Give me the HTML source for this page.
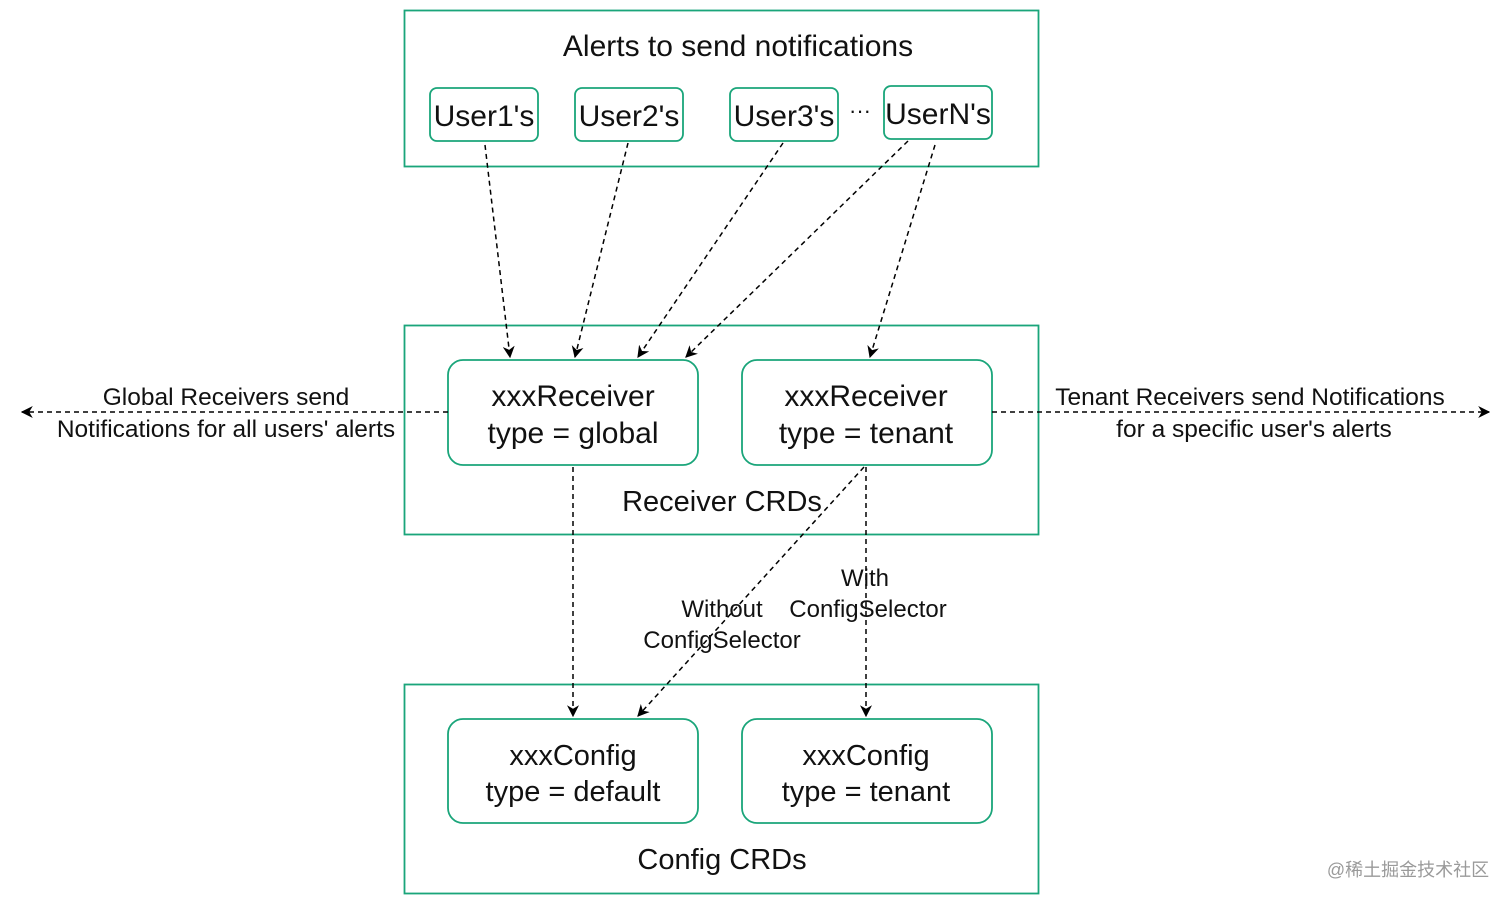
<!DOCTYPE html>
<html><head><meta charset="utf-8"><style>
html,body{margin:0;padding:0;background:#fff;}
svg{display:block;}
text{font-family:"Liberation Sans",Arial,sans-serif;fill:#111;}
</style></head><body>
<svg width="1512" height="904" viewBox="0 0 1512 904" xmlns="http://www.w3.org/2000/svg">
<defs>
<marker id="a" viewBox="0 0 10 10" refX="9" refY="5" markerWidth="12" markerHeight="12" orient="auto-start-reverse" markerUnits="userSpaceOnUse">
<path d="M0,0 L10,5 L0,10 L3,5 Z" fill="#000"/>
</marker>
</defs>
<g fill="none" stroke="#1aa57a" stroke-width="1.8">
<rect x="404.5" y="10.5" width="634" height="156"/>
<rect x="404.5" y="325.5" width="634" height="209"/>
<rect x="404.5" y="684.5" width="634" height="209"/>
<rect x="430" y="88" width="108" height="53" rx="7"/>
<rect x="575" y="88" width="108" height="53" rx="7"/>
<rect x="730" y="88" width="108" height="53" rx="7"/>
<rect x="884" y="86" width="108" height="53" rx="7"/>
<rect x="448" y="360" width="250" height="105" rx="15"/>
<rect x="742" y="360" width="250" height="105" rx="15"/>
<rect x="448" y="719" width="250" height="104" rx="15"/>
<rect x="742" y="719" width="250" height="104" rx="15"/>
</g>
<g stroke="#000" stroke-width="1.5" stroke-dasharray="5,4" fill="none" marker-end="url(#a)">
<line x1="485" y1="145" x2="510" y2="357"/>
<line x1="628" y1="143" x2="575" y2="357"/>
<line x1="783" y1="143" x2="638" y2="357"/>
<line x1="908" y1="141" x2="686" y2="357"/>
<line x1="935" y1="145" x2="870" y2="357"/>
<line x1="448" y1="412" x2="22" y2="412"/>
<line x1="992" y1="412" x2="1489" y2="412"/>
<line x1="573" y1="467" x2="573" y2="716"/>
<line x1="866" y1="467" x2="866" y2="716"/>
<line x1="864" y1="467" x2="638" y2="716"/>
</g>
<g text-anchor="middle">
<text x="738" y="56" font-size="30">Alerts to send notifications</text>
<text x="484" y="126" font-size="30">User1's</text>
<text x="629" y="126" font-size="30">User2's</text>
<text x="784" y="126" font-size="30">User3's</text>
<text x="938" y="124" font-size="30">UserN's</text>
<text x="860" y="118" font-size="22">···</text>
<text x="573" y="406" font-size="30">xxxReceiver</text>
<text x="573" y="443" font-size="30">type = global</text>
<text x="866" y="406" font-size="30">xxxReceiver</text>
<text x="866" y="443" font-size="30">type = tenant</text>
<text x="722" y="511" font-size="29">Receiver CRDs</text>
<text x="573" y="765" font-size="29">xxxConfig</text>
<text x="573" y="801" font-size="29">type = default</text>
<text x="866" y="765" font-size="29">xxxConfig</text>
<text x="866" y="801" font-size="29">type = tenant</text>
<text x="722" y="869" font-size="29">Config CRDs</text>
<text x="226" y="405" font-size="24.5">Global Receivers send</text>
<text x="226" y="437" font-size="24.5">Notifications for all users' alerts</text>
<text x="1250" y="405" font-size="24.5">Tenant Receivers send Notifications</text>
<text x="1254" y="437" font-size="24.5">for a specific user's alerts</text>
<text x="865" y="586" font-size="24">With</text>
<text x="868" y="617" font-size="24">ConfigSelector</text>
<text x="722" y="617" font-size="24">Without</text>
<text x="722" y="648" font-size="24">ConfigSelector</text>
<text x="1408" y="876" font-size="18" style="fill:#9a9a9a" font-family="Liberation Sans, Noto Sans CJK SC, sans-serif">@稀土掘金技术社区</text>
</g>
</svg>
</body></html>
